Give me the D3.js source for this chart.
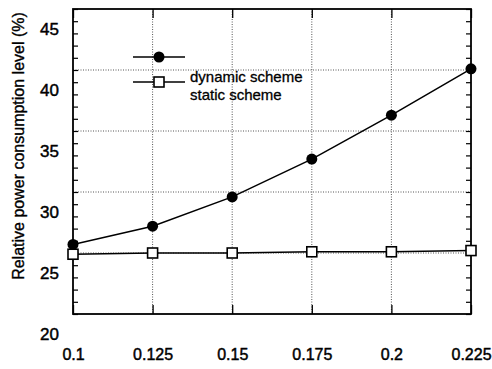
<!DOCTYPE html>
<html>
<head>
<meta charset="utf-8">
<script src="https://cdn.jsdelivr.net/npm/d3@7"></script>
<style>
  html, body { margin: 0; padding: 0; background: #fff; }
  svg { display: block; font-family: "Liberation Sans", Arial, Helvetica, sans-serif; }
</style>
</head>
<body>
<svg id="chart" width="492" height="369"></svg>
<script>
// Load factor values along the x axis
const loads = [0.1, 0.125, 0.15, 0.175, 0.2, 0.225];
const xTickLabels = ["0.1", "0.125", "0.15", "0.175", "0.2", "0.225"];

// Relative power consumption level (%) for each scheme
const dynamicScheme = [25.7, 27.2, 29.6, 32.7, 36.3, 40.1];
const staticScheme = [24.9, 25.0, 25.0, 25.1, 25.1, 25.2];

const yTicks = [20, 25, 30, 35, 40, 45];
const yMinorTicks = d3.range(20, 46, 1);
const seriesNames = ["dynamic scheme", "static scheme"];

const svg = d3.select("#chart");
const plot = { left: 73, right: 471, top: 9, bottom: 314 };
const textShift = 20; // labels sit a little below their ticks

const x = d3.scaleLinear().domain([0.1, 0.225]).range([plot.left, plot.right]);
const y = d3.scaleLinear().domain([20, 45]).range([plot.bottom, plot.top]);

// dotted grid
const grid = svg.append("g").attr("class", "grid");
grid.selectAll("line.h")
  .data(yTicks.filter(d => d > 20 && d < 45))
  .join("line")
  .attr("x1", plot.left).attr("x2", plot.right)
  .attr("y1", d => y(d)).attr("y2", d => y(d))
  .attr("stroke", "#555").attr("stroke-width", 1).attr("stroke-dasharray", "1,1.5");
grid.selectAll("line.v")
  .data(loads.slice(1, -1))
  .join("line")
  .attr("y1", plot.top).attr("y2", plot.bottom)
  .attr("x1", d => x(d)).attr("x2", d => x(d))
  .attr("stroke", "#555").attr("stroke-width", 1).attr("stroke-dasharray", "1,1.5");

// minor ticks on left and right frame edges, pointing inward
svg.append("g")
  .attr("transform", `translate(${plot.left},0)`)
  .call(d3.axisLeft(y).tickValues(yMinorTicks).tickSize(-5).tickFormat(""))
  .call(g => g.select(".domain").remove())
  .call(g => g.selectAll("line").attr("stroke", "#000").attr("stroke-width", 1.2));
svg.append("g")
  .attr("transform", `translate(${plot.right},0)`)
  .call(d3.axisRight(y).tickValues(yMinorTicks).tickSize(-5).tickFormat(""))
  .call(g => g.select(".domain").remove())
  .call(g => g.selectAll("line").attr("stroke", "#000").attr("stroke-width", 1.2));

// major ticks on bottom and top edges
svg.append("g")
  .attr("transform", `translate(0,${plot.bottom})`)
  .call(d3.axisBottom(x).tickValues(loads).tickSize(-9).tickFormat(""))
  .call(g => g.select(".domain").remove())
  .call(g => g.selectAll("line").attr("stroke", "#000").attr("stroke-width", 1.3));
svg.append("g")
  .attr("transform", `translate(0,${plot.top})`)
  .call(d3.axisTop(x).tickValues(loads).tickSize(-9).tickFormat(""))
  .call(g => g.select(".domain").remove())
  .call(g => g.selectAll("line").attr("stroke", "#000").attr("stroke-width", 1.3));

// frame
svg.append("rect")
  .attr("x", plot.left).attr("y", plot.top)
  .attr("width", plot.right - plot.left).attr("height", plot.bottom - plot.top)
  .attr("fill", "none").attr("stroke", "#000").attr("stroke-width", 1.8);

// y tick labels
svg.append("g")
  .attr("transform", `translate(${plot.left - 14},${textShift})`)
  .call(d3.axisLeft(y).tickValues(yTicks).tickSize(0).tickPadding(0).tickFormat(d3.format("d")))
  .call(g => g.select(".domain").remove())
  .call(g => g.selectAll("text")
    .attr("font-size", 17).attr("fill", "#000")
    .attr("font-family", "'Liberation Sans', Arial, sans-serif")
    .attr("stroke", "#000").attr("stroke-width", 0.45));

// x tick labels
svg.append("g")
  .attr("transform", `translate(0,${plot.bottom + 35})`)
  .call(d3.axisBottom(x).tickValues(loads).tickSize(0).tickPadding(0)
    .tickFormat((d, i) => xTickLabels[i]))
  .call(g => g.select(".domain").remove())
  .call(g => g.selectAll("text")
    .attr("font-size", 16).attr("fill", "#000")
    .attr("font-family", "'Liberation Sans', Arial, sans-serif")
    .attr("stroke", "#000").attr("stroke-width", 0.45));

// y axis title
svg.append("text")
  .attr("transform", `translate(23.5,146) rotate(-90)`)
  .attr("text-anchor", "middle")
  .attr("font-size", 16)
  .attr("fill", "#000")
  .attr("stroke", "#000").attr("stroke-width", 0.35)
  .text("Relative power consumption level (%)");

// series
const line = d3.line().x((d, i) => x(loads[i])).y(d => y(d));

svg.append("path").datum(staticScheme)
  .attr("d", line).attr("fill", "none").attr("stroke", "#000").attr("stroke-width", 1.5);
svg.append("path").datum(dynamicScheme)
  .attr("d", line).attr("fill", "none").attr("stroke", "#000").attr("stroke-width", 1.5);

const sq = 10;
svg.append("g").selectAll("rect")
  .data(staticScheme)
  .join("rect")
  .attr("x", (d, i) => x(loads[i]) - sq / 2)
  .attr("y", d => y(d) - sq / 2)
  .attr("width", sq).attr("height", sq)
  .attr("fill", "#fff").attr("stroke", "#000").attr("stroke-width", 1.6);

svg.append("g").selectAll("circle")
  .data(dynamicScheme)
  .join("circle")
  .attr("cx", (d, i) => x(loads[i]))
  .attr("cy", d => y(d))
  .attr("r", 5.5)
  .attr("fill", "#000");

// legend
const legend = svg.append("g");
const legendRows = [57, 82];
legend.selectAll("line")
  .data(legendRows)
  .join("line")
  .attr("x1", 133).attr("x2", 185)
  .attr("y1", d => d).attr("y2", d => d)
  .attr("stroke", "#000").attr("stroke-width", 1.5);
legend.append("circle").attr("cx", 159).attr("cy", legendRows[0]).attr("r", 5.5).attr("fill", "#000");
legend.append("rect")
  .attr("x", 159 - sq / 2).attr("y", legendRows[1] - sq / 2)
  .attr("width", sq).attr("height", sq)
  .attr("fill", "#fff").attr("stroke", "#000").attr("stroke-width", 1.6);
legend.selectAll("text")
  .data(seriesNames)
  .join("text")
  .attr("x", 190)
  .attr("y", (d, i) => legendRows[0] + textShift + i * 18)
  .attr("dy", "0.35em")
  .attr("font-size", 15)
  .attr("fill", "#000")
  .attr("stroke", "#000").attr("stroke-width", 0.3)
  .text(d => d);
</script>
</body>
</html>
